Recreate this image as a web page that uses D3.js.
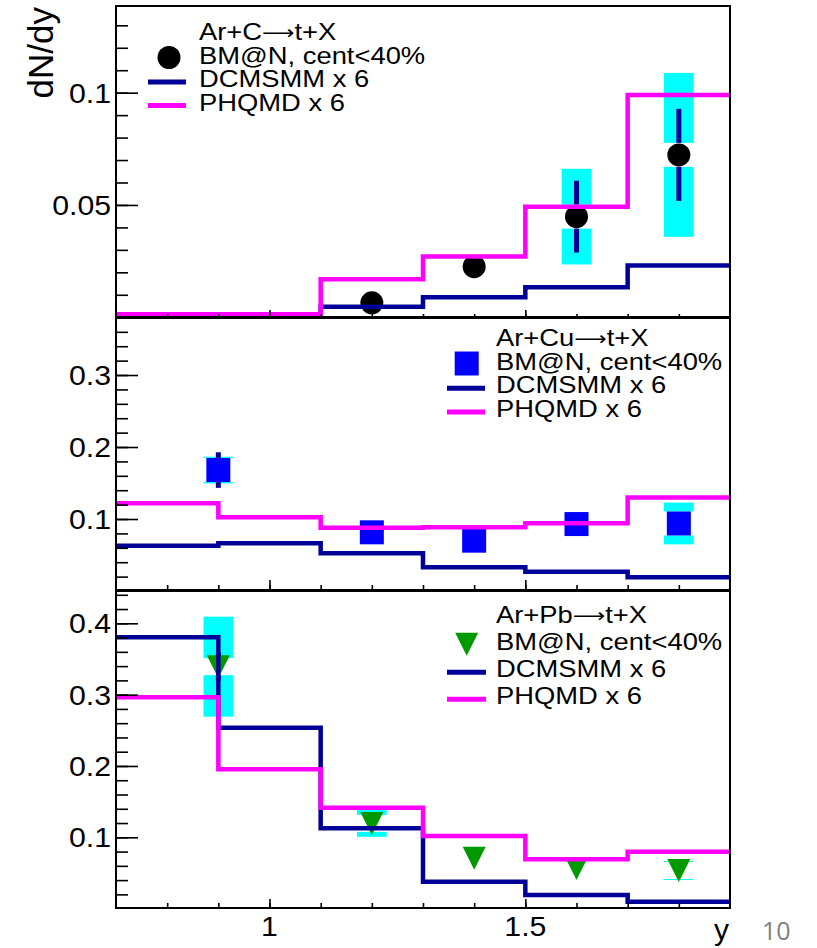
<!DOCTYPE html>
<html lang="en">
<head>
<meta charset="UTF-8">
<title>dN/dy of tritons</title>
<script src="https://d3js.org/d3.v7.min.js"></script>
<style>
  body { margin: 0; background: #fff; }
  text { font-family: "Liberation Sans", Arial, Helvetica, sans-serif; fill: #000; }
</style>
</head>
<body>
<svg id="main" width="817" height="948"></svg>
<script>
// bin edges of the model histograms (rapidity y)
const binEdges = [0.7, 0.9, 1.1, 1.3, 1.5, 1.7, 1.9];

// Ar+C
const cDcm = [0.0013, 0.0013, 0.0047, 0.0089, 0.0134, 0.023];
const cPhq = [0.0013, 0.0013, 0.0169, 0.027, 0.0492, 0.099];
const cX = [1.2, 1.4, 1.6, 1.8];
const cVal = [0.0064, 0.0225, 0.0448, 0.0723];
const cStat = [0.001, 0.0015, 0.016, 0.0205];
const cSys = [0.0015, 0.002, 0.0213, 0.0365];

// Ar+Cu
const cuDcm = [0.0629, 0.0662, 0.0524, 0.033, 0.0268, 0.019];
const cuPhq = [0.1218, 0.1024, 0.088, 0.0885, 0.094, 0.130];
const cuX = [0.9, 1.2, 1.4, 1.6, 1.8];
const cuVal = [0.168, 0.0815, 0.0699, 0.093, 0.0938];
const cuStat = [0.0247, 0.004, 0.004, 0.004, 0.006];
const cuSys = [0.0185, 0.005, 0.005, 0.005, 0.029];

// Ar+Pb
const pbDcm = [0.3805, 0.2537, 0.1126, 0.0377, 0.019, 0.0097];
const pbPhq = [0.2963, 0.1954, 0.1415, 0.102, 0.0691, 0.0798];
const pbX = [0.9, 1.2, 1.4, 1.6, 1.8];
const pbVal = [0.3392, 0.1195, 0.0706, 0.0563, 0.0535];
const pbStat = [0.02, 0.004, 0.004, 0.004, 0.004];
const pbSys = [0.0701, 0.0188, 0.004, 0.004, 0.0133];

// axis ticks
const xMinorTicks = [0.8, 0.9, 1.0, 1.1, 1.2, 1.3, 1.4, 1.5, 1.6, 1.7, 1.8];
const xLabels = [1, 1.5];
const cMinorTicks = [0.01, 0.02, 0.03, 0.04, 0.05, 0.06, 0.07, 0.08, 0.09, 0.1, 0.11, 0.12, 0.13];
const cLabels = [0.05, 0.1];
const cuMinorTicks = [0.02, 0.04, 0.06, 0.08, 0.1, 0.12, 0.14, 0.16, 0.18, 0.2, 0.22, 0.24, 0.26, 0.28, 0.3, 0.32, 0.34, 0.36];
const cuLabels = [0.1, 0.2, 0.3];
const pbMinorTicks = [0.02, 0.04, 0.06, 0.08, 0.1, 0.12, 0.14, 0.16, 0.18, 0.2, 0.22, 0.24, 0.26, 0.28, 0.3, 0.32, 0.34, 0.36, 0.38, 0.4, 0.42, 0.44];
const pbLabels = [0.1, 0.2, 0.3, 0.4];

const legendNames = ['BM@N, cent<40%', 'DCMSMM x 6', 'PHQMD x 6'];

const navy = '#000099', pink = '#ff00ff', cyan = '#00ffff';

let svg = d3.select('#main');
let left = 116, right = 730;
let xScale = d3.scaleLinear().domain([0.7, 1.9]).range([left, right]);

let panels = [
    {name: 'c', top: 6, bottom: 317, domain: [0.0001, 0.1386], minor: cMinorTicks, labels: cLabels,
     dcm: cDcm, phq: cPhq, xs: cX, vals: cVal, stat: cStat, sys: cSys,
     marker: 'circle', color: '#000', gap: 12, title: ['Ar+C', 't+X'],
     lx: 199, ly: 40, ldy: 23.5, mx: 169, lineX: [148, 186], xMaj: 7, xMin: 3},
    {name: 'cu', top: 318, bottom: 590, domain: [0.0014, 0.3792], minor: cuMinorTicks, labels: cuLabels,
     dcm: cuDcm, phq: cuPhq, xs: cuX, vals: cuVal, stat: cuStat, sys: cuSys,
     marker: 'square', color: '#0000ff', gap: 12, title: ['Ar+Cu', 't+X'],
     lx: 496, ly: 345.7, ldy: 23.8, mx: 466.7, lineX: [447, 485], xMaj: 10, xMin: 5},
    {name: 'pb', top: 591, bottom: 908, domain: [0.0009, 0.4453], minor: pbMinorTicks, labels: pbLabels,
     dcm: pbDcm, phq: pbPhq, xs: pbX, vals: pbVal, stat: pbStat, sys: pbSys,
     marker: 'triangle', color: '#009900', gap: 8.5, title: ['Ar+Pb', 't+X'],
     lx: 496, ly: 623.3, ldy: 27, mx: 466.7, lineX: [447, 486], xMaj: 9, xMin: 5}
];

function markerPath(type) {
    if (type === 'circle') return d3.symbol().type(d3.symbolCircle).size(Math.PI * 11.5 * 11.5)();
    if (type === 'square') return 'M-12,-12H12V12H-12Z';
    return 'M-11.5,-11.5H11.5L0,11.5Z';
}

panels.forEach(function (p) {
    let yScale = d3.scaleLinear().domain(p.domain).range([p.bottom, p.top]);
    let g = svg.append('g');
    let clipId = 'clip-' + p.name;
    svg.append('clipPath').attr('id', clipId).append('rect')
        .attr('x', left).attr('y', p.top).attr('width', right - left).attr('height', p.bottom - p.top);
    let plot = g.append('g').attr('clip-path', 'url(#' + clipId + ')');

    let pts = p.xs.map(function (x, i) {
        return {x: x, v: p.vals[i], stat: p.stat[i], sys: p.sys[i]};
    });

    // systematic boxes, with a gap round the marker
    pts.forEach(function (d) {
        let cy = yScale(d.v);
        let top = yScale(d.v + d.sys), bot = yScale(d.v - d.sys);
        let x0 = xScale(d.x - 0.029), x1 = xScale(d.x + 0.029);
        if (cy - p.gap > top) {
            plot.append('rect').attr('x', x0).attr('width', x1 - x0)
                .attr('y', top).attr('height', cy - p.gap - top).attr('fill', cyan);
        }
        if (bot > cy + p.gap) {
            plot.append('rect').attr('x', x0).attr('width', x1 - x0)
                .attr('y', cy + p.gap).attr('height', bot - cy - p.gap).attr('fill', cyan);
        }
    });

    // statistical error bars
    pts.forEach(function (d) {
        let cy = yScale(d.v);
        let top = yScale(d.v + d.stat), bot = yScale(d.v - d.stat);
        if (cy - p.gap > top) {
            plot.append('line').attr('x1', xScale(d.x)).attr('x2', xScale(d.x))
                .attr('y1', top).attr('y2', cy - p.gap).attr('stroke', navy).attr('stroke-width', 5);
        }
        if (bot > cy + p.gap) {
            plot.append('line').attr('x1', xScale(d.x)).attr('x2', xScale(d.x))
                .attr('y1', cy + p.gap).attr('y2', bot).attr('stroke', navy).attr('stroke-width', 5);
        }
    });

    // markers
    plot.selectAll('path.marker').data(pts).enter().append('path')
        .attr('class', 'marker')
        .attr('d', markerPath(p.marker))
        .attr('transform', function (d) { return 'translate(' + xScale(d.x) + ',' + yScale(d.v) + ')'; })
        .attr('fill', p.color);

    // model histograms
    let step = d3.line().curve(d3.curveStepAfter)
        .x(function (d) { return xScale(d[0]); })
        .y(function (d) { return yScale(d[1]); });
    [[p.dcm, navy], [p.phq, pink]].forEach(function (h) {
        let vals = h[0];
        let line = binEdges.map(function (e, i) { return [e, vals[Math.min(i, vals.length - 1)]]; });
        plot.append('path').attr('d', step(line))
            .attr('fill', 'none').attr('stroke', h[1]).attr('stroke-width', 4.5);
    });

    // y ticks
    let yMinor = g.append('g').attr('transform', 'translate(' + left + ',0)')
        .call(d3.axisRight(yScale).tickValues(p.minor).tickSize(12).tickFormat(''));
    let yMajor = g.append('g').attr('transform', 'translate(' + left + ',0)')
        .call(d3.axisRight(yScale).tickValues(p.labels).tickSize(22).tickFormat(''));
    // x ticks
    let xMinor = g.append('g').attr('transform', 'translate(0,' + p.bottom + ')')
        .call(d3.axisTop(xScale).tickValues(xMinorTicks).tickSize(p.xMin).tickFormat(''));
    let xMajor = g.append('g').attr('transform', 'translate(0,' + p.bottom + ')')
        .call(d3.axisTop(xScale).tickValues(xLabels).tickSize(p.xMaj).tickFormat(''));
    [yMinor, yMajor, xMinor, xMajor].forEach(function (a) {
        a.select('.domain').remove();
        a.selectAll('line').attr('stroke', '#000').attr('stroke-width', 1.6);
    });

    // y labels
    g.selectAll('text.ylab').data(p.labels).enter().append('text')
        .attr('class', 'ylab')
        .attr('transform', function (d) { return 'translate(111,' + yScale(d) + ') scale(1.08,1)'; })
        .attr('dy', '0.36em')
        .attr('text-anchor', 'end')
        .style('font-size', '28px')
        .text(function (d) { return String(d); });

    // frame
    g.append('rect').attr('x', left).attr('y', p.top)
        .attr('width', right - left).attr('height', p.bottom - p.top)
        .attr('fill', 'none').attr('stroke', '#000').attr('stroke-width', 2);

    // legend
    let leg = g.append('g');
    let head = leg.append('text')
        .attr('transform', 'translate(' + p.lx + ',' + p.ly + ') scale(1.19,1)')
        .style('font-size', '23px');
    head.append('tspan').text(p.title[0]);
    head.append('tspan').style('font-family', '"DejaVu Sans", sans-serif').style('font-size', '19px')
        .attr('dy', -1).text('\u27F6');
    head.append('tspan').attr('dy', 1).text(p.title[1]);
    legendNames.forEach(function (t, i) {
        leg.append('text')
            .attr('transform', 'translate(' + p.lx + ',' + (p.ly + (i + 1) * p.ldy) + ') scale(1.19,1)')
            .style('font-size', '23px')
            .text(t);
    });
    leg.append('path').attr('d', markerPath(p.marker))
        .attr('transform', 'translate(' + p.mx + ',' + (p.ly + p.ldy - 6) + ')')
        .attr('fill', p.color);
    [navy, pink].forEach(function (c, i) {
        let yy = p.ly + (i + 2) * p.ldy - 5;
        leg.append('line').attr('x1', p.lineX[0]).attr('x2', p.lineX[1])
            .attr('y1', yy).attr('y2', yy).attr('stroke', c).attr('stroke-width', 5);
    });
});

// x axis labels
svg.selectAll('text.xlab').data(xLabels).enter().append('text')
    .attr('class', 'xlab')
    .attr('transform', function (d) { return 'translate(' + xScale(d) + ',936) scale(1.08,1)'; })
    .attr('text-anchor', 'middle')
    .style('font-size', '28px')
    .text(function (d) { return String(d); });

// axis titles
svg.append('text')
    .attr('transform', 'translate(53,7) rotate(-90)')
    .attr('text-anchor', 'end')
    .style('font-size', '35px')
    .text('dN/dy');
svg.append('text')
    .attr('x', 729).attr('y', 940)
    .attr('text-anchor', 'end')
    .style('font-size', '30px')
    .text('y');

// slide page number
svg.append('text')
    .attr('x', 762).attr('y', 940)
    .style('font-family', '"Open Sans", sans-serif')
    .style('font-size', '25px')
    .style('fill', '#808080')
    .text('10');
</script>
</body>
</html>
